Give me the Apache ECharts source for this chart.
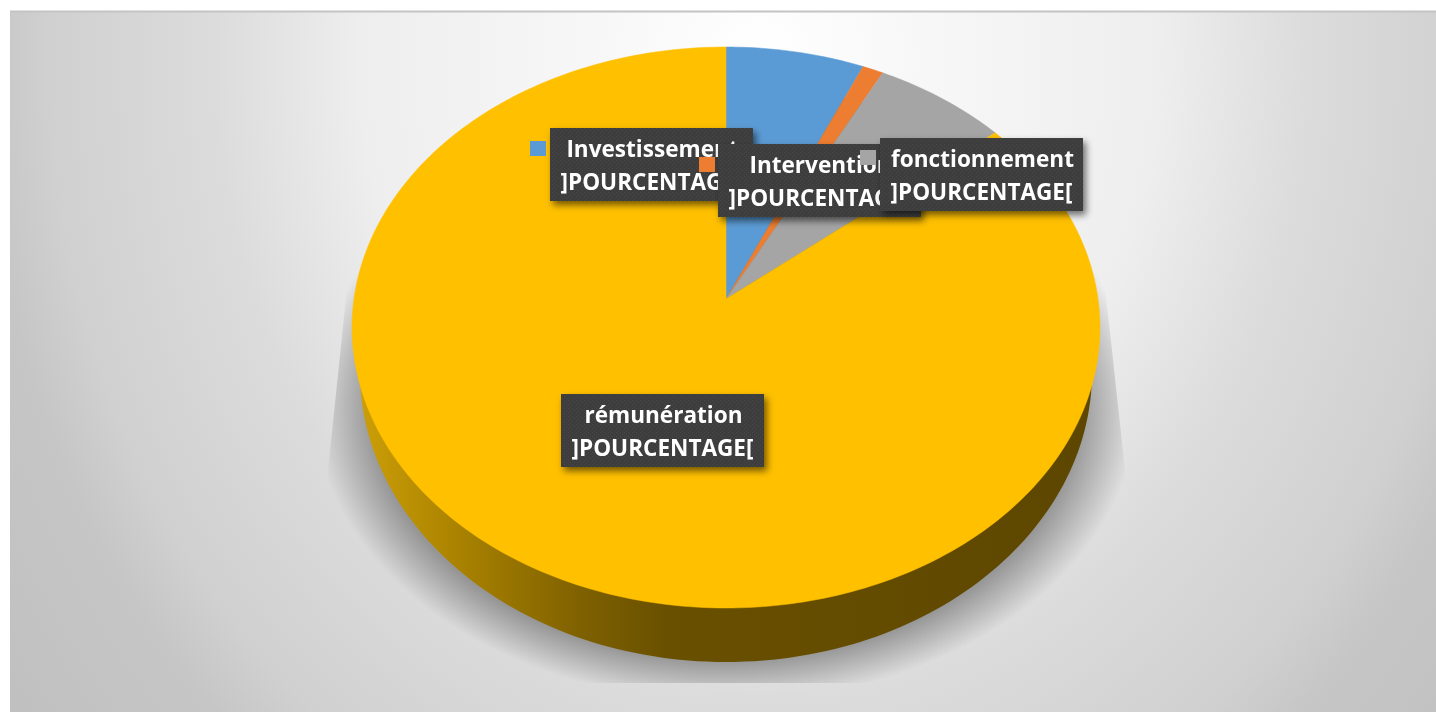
<!DOCTYPE html>
<html>
<head>
<meta charset="utf-8" />
<style>
  html, body { margin: 0; padding: 0; background: #fff; }
  #chart { width: 1436px; height: 712px; }
</style>
</head>
<body>
<div id="chart"></div>
<script src="https://cdn.jsdelivr.net/npm/echarts@6/dist/echarts.min.js"></script>
<script>
const categories = ["Investissement", "Intervention", "fonctionnement", "rémunération"];
const values = [6.6, 1.0, 6.4, 86.0];
const percentLabel = "]POURCENTAGE[";
const colors = ["#5B9BD5", "#ED7D31", "#A5A5A5", "#FFC000"];

// label boxes in drawing order: [box left, box top, key left, key top]
const labelBoxes = [[550, 128, 530, 141], [718, 144, 699, 157], [880, 138, 860, 150], [561, 394, null, null]];
const BOX_W = 203;
const BOX_H = 73;

// the tilted disc: apex of the slices and the perspective of the top face
const APEX_X = 726;
const APEX_Y = 299;
const P_C = -0.1016;
const P_A = 277.6;
const P_D = 372;

/** share of the pie (0..1, clockwise from the top) to pixel */
function piePoint(t) {
  const u = Math.sin(t * 2 * Math.PI);
  const v = -Math.cos(t * 2 * Math.PI);
  const w = 1 + P_C * v;
  return [APEX_X + (P_D * u) / w, APEX_Y + (P_A * v) / w];
}

function renderSlice(params, api) {
  const total = values.reduce((a, b) => a + b, 0);
  const start = values.slice(0, params.dataIndex).reduce((a, b) => a + b, 0) / total;
  const end = start + api.value(0) / total;
  const points = [[APEX_X, APEX_Y]];
  const steps = Math.max(4, Math.ceil((end - start) * 360));
  for (let i = 0; i <= steps; i += 1) {
    points.push(piePoint(start + ((end - start) * i) / steps));
  }
  return {
    type: "polygon",
    shape: { points },
    style: { fill: colors[params.dataIndex], stroke: colors[params.dataIndex], lineWidth: 0.5 },
  };
}

// faint dotted texture of the label boxes
const dots = document.createElement("canvas");
dots.width = 4;
dots.height = 4;
const dotsCtx = dots.getContext("2d");
dotsCtx.fillStyle = "#3d3d3d";
dotsCtx.fillRect(0, 0, 4, 4);
dotsCtx.fillStyle = "#484848";
dotsCtx.fillRect(0, 0, 1, 1);
dotsCtx.fillRect(2, 2, 1, 1);

function labelLine(text, x, y) {
  return {
    type: "text",
    x,
    y,
    scaleX: 0.94,
    style: {
      x: 0,
      y: 0,
      text,
      fill: "#fff",
      font: 'bold 24px "Open Sans"',
      align: "center",
      verticalAlign: "middle",
    },
  };
}

function renderLabel(params) {
  const i = params.dataIndex;
  const [left, top, keyX, keyY] = labelBoxes[i];
  const children = [
    {
      type: "rect",
      shape: { x: left, y: top, width: BOX_W, height: BOX_H },
      style: {
        fill: { image: dots, repeat: "repeat" },
        shadowBlur: 7,
        shadowOffsetX: 3,
        shadowOffsetY: 4,
        shadowColor: "rgba(0,0,0,0.55)",
      },
    },
    labelLine(categories[i], left + BOX_W / 2 + 1, top + 22),
    labelLine(percentLabel, left + BOX_W / 2, top + 55),
  ];
  if (keyX !== null) {
    children.push({
      type: "rect",
      shape: { x: keyX, y: keyY, width: 16, height: 15 },
      style: { fill: colors[i] },
    });
  }
  return { type: "group", children };
}

const SHADOW_Y = 405;
const SHADOW_S = 0.72;
const shadowPoints = [[352, 240], [1100, 240], [1125, 470], [1125, 683], [328, 683], [328, 470]].map(
  (p) => [p[0], (p[1] - SHADOW_Y) / SHADOW_S]
);

// the backdrop gradient is a slightly tall ellipse, so it is drawn squeezed
const BG_Y = 60;
const BG_S = 0.85;

const myChart = echarts.init(document.getElementById("chart"));
myChart.setOption({
  animation: false,
  graphic: {
    elements: [
      {
        type: "rect",
        z: 0,
        y: BG_Y,
        scaleY: 1 / BG_S,
        shape: { x: 10, y: (12 - BG_Y) * BG_S, width: 1426, height: 700 * BG_S },
        style: {
          fill: {
            type: "radial",
            x: 760,
            y: 0,
            r: 930,
            global: true,
            colorStops: [
              { offset: 0, color: "#ffffff" },
              { offset: 0.16, color: "#f8f8f8" },
              { offset: 0.43, color: "#eeeeee" },
              { offset: 0.585, color: "#dcdcdc" },
              { offset: 0.765, color: "#d0d0d0" },
              { offset: 0.835, color: "#c6c6c6" },
              { offset: 1, color: "#c0c0c0" },
            ],
          },
        },
      },
      {
        type: "line",
        z: 1,
        shape: { x1: 10, y1: 11.5, x2: 1436, y2: 11.5 },
        style: { stroke: "#c4c4c4", lineWidth: 2 },
      },
      {
        type: "polygon",
        z: 1,
        y: SHADOW_Y,
        scaleY: SHADOW_S,
        shape: { points: shadowPoints },
        style: {
          fill: {
            type: "radial",
            x: 726,
            y: 0,
            r: 412,
            global: true,
            colorStops: [
              { offset: 0, color: "rgba(90,90,90,0.55)" },
              { offset: 0.86, color: "rgba(90,90,90,0.55)" },
              { offset: 0.93, color: "rgba(90,90,90,0.28)" },
              { offset: 1, color: "rgba(90,90,90,0)" },
            ],
          },
        },
      },
      {
        type: "ellipse",
        z: 2,
        shape: { cx: 726, cy: 372, rx: 366, ry: 290 },
        style: {
          fill: {
            type: "linear",
            x: 0,
            y: 0,
            x2: 1,
            y2: 0,
            colorStops: [
              { offset: 0, color: "#cc9e08" },
              { offset: 0.12, color: "#ad8500" },
              { offset: 0.3, color: "#7f6100" },
              { offset: 0.42, color: "#695000" },
              { offset: 1, color: "#5d4600" },
            ],
          },
        },
      },
    ],
  },
  series: [
    {
      type: "custom",
      coordinateSystem: "none",
      z: 3,
      silent: true,
      data: values.map((v) => [v]),
      renderItem: renderSlice,
    },
    {
      type: "custom",
      coordinateSystem: "none",
      z: 4,
      silent: true,
      data: categories,
      renderItem: renderLabel,
    },
  ],
});
</script>
</body>
</html>
